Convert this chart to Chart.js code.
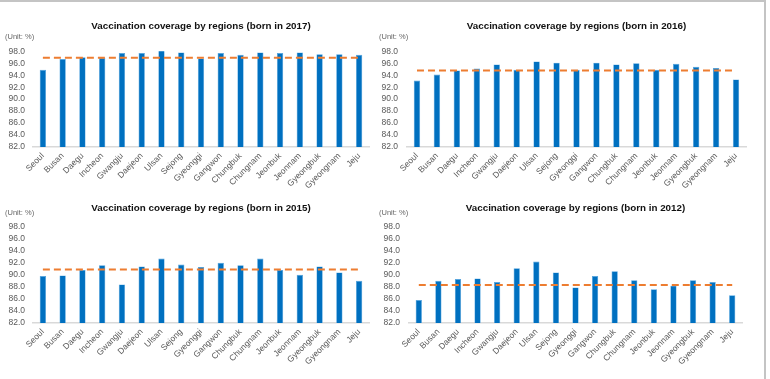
<!DOCTYPE html>
<html>
<head>
<meta charset="utf-8">
<script src="https://cdn.jsdelivr.net/npm/chart.js@4.4.1/dist/chart.umd.min.js"></script>
<style>
  html, body { margin: 0; padding: 0; background: #fff; }
  #wrap { position: relative; width: 770px; height: 379px; overflow: hidden; }
  #wrap canvas { position: absolute; }
  #frame { position: absolute; left: 0; top: 0; width: 766px; height: 379px;
           border-top: 2px solid #c4c4c4; border-right: 2px solid #c4c4c4; box-sizing: border-box; }
</style>
</head>
<body>
<div id="wrap">
  <canvas id="c2017" width="385" height="191" style="left:0;top:0"></canvas>
  <canvas id="c2016" width="395" height="191" style="left:375px;top:0"></canvas>
  <canvas id="c2015" width="385" height="190" style="left:0;top:177px"></canvas>
  <canvas id="c2012" width="395" height="190" style="left:375px;top:177px"></canvas>
  <div id="frame"></div>
</div>
<script>
const regions = ['Seoul', 'Busan', 'Daegu', 'Incheon', 'Gwangju', 'Daejeon', 'Ulsan', 'Sejong', 'Gyeonggi',
  'Gangwon', 'Chungbuk', 'Chungnam', 'Jeonbuk', 'Jeonnam', 'Gyeongbuk', 'Gyeongnam', 'Jeju'];

const cov2017 = [94.9, 96.7, 97.0, 96.9, 97.7, 97.7, 98.3, 97.8, 96.8, 97.7, 97.4, 97.8, 97.7, 97.8, 97.5, 97.5, 97.4];
const cov2016 = [93.1, 94.1, 94.8, 95.1, 95.8, 94.9, 96.3, 96.1, 94.9, 96.1, 95.8, 96.0, 94.9, 95.9, 95.4, 95.2, 93.3];
const cov2015 = [89.8, 89.9, 90.8, 91.6, 88.4, 91.4, 92.7, 91.7, 91.3, 92.0, 91.6, 92.7, 90.8, 90.0, 91.4, 90.4, 89.0];
const cov2012 = [85.8, 89.0, 89.3, 89.4, 88.8, 91.1, 92.2, 90.4, 87.9, 89.8, 90.6, 89.1, 87.6, 88.2, 89.1, 88.8, 86.6];

// national averages (dashed line)
const avg2017 = 96.9;
const avg2016 = 94.8;
const avg2015 = 90.9;
const avg2012 = 88.3;

const yMin = 82, yMax = 98, yStep = 2;

const FONT = '"Liberation Sans", Arial, sans-serif';
const GREY = '#595959';

function makeChart(id, year, values, avg, geo) {
  new Chart(document.getElementById(id), {
    type: 'bar',
    data: {
      labels: regions,
      datasets: [
        {
          type: 'line',
          data: regions.map(() => avg),
          borderColor: '#ED7D31',
          borderWidth: 2,
          borderDash: [7, 4],
          pointRadius: 0,
          fill: false,
          order: 0
        },
        {
          data: values,
          backgroundColor: '#0070C0',
          borderColor: '#4FA3E0',
          borderWidth: { left: 0.6, right: 0.6, top: 0.6, bottom: 0 },
          barPercentage: 0.32,
          categoryPercentage: 1,
          order: 1
        }
      ]
    },
    options: {
      responsive: false,
      animation: false,
      devicePixelRatio: 1,
      layout: { padding: { left: geo.padLeft, right: geo.padRight, top: 0, bottom: 0 } },
      plugins: {
        legend: { display: false },
        tooltip: { enabled: false },
        title: {
          display: true,
          text: 'Vaccination coverage by regions (born in ' + year + ')',
          fullSize: false,
          color: '#111',
          font: { family: FONT, size: 9.8, weight: 'bold' },
          padding: { top: geo.titleTop, bottom: geo.titleBottom }
        },
        subtitle: {
          display: true,
          text: '(Unit: %)',
          align: 'start',
          color: '#666',
          font: { family: FONT, size: 7.5 },
          padding: { top: geo.subTop, bottom: geo.subBottom }
        }
      },
      scales: {
        x: {
          grid: { display: false, drawTicks: false },
          border: { display: true, color: '#D9D9D9', width: 1.5 },
          ticks: {
            color: GREY,
            font: { family: FONT, size: 8.5 },
            minRotation: 45,
            maxRotation: 45,
            padding: 4,
            autoSkip: false
          },
          afterFit: s => { s.height = 44; }
        },
        y: {
          min: yMin,
          max: yMax,
          grid: { display: false, drawTicks: false },
          border: { display: false },
          ticks: {
            stepSize: yStep,
            autoSkip: false,
            color: GREY,
            font: { family: FONT, size: 8.5 },
            padding: geo.tickPad,
            callback: v => v.toFixed(1)
          },
          afterFit: s => { s.width = geo.yWidth; }
        }
      }
    }
  });
}

makeChart('c2017', 2017, cov2017, avg2017,
  { padLeft: 5, padRight: 16, yWidth: 28, tickPad: 8, titleTop: 20.5, titleBottom: 0, subTop: 0, subBottom: 10 });
makeChart('c2016', 2016, cov2016, avg2016,
  { padLeft: 4, padRight: 24, yWidth: 28, tickPad: 9, titleTop: 20.5, titleBottom: 0, subTop: 0, subBottom: 10 });
makeChart('c2015', 2015, cov2015, avg2015,
  { padLeft: 5, padRight: 16, yWidth: 28, tickPad: 8, titleTop: 25.4, titleBottom: -5.5, subTop: 0, subBottom: 9 });
makeChart('c2012', 2012, cov2012, avg2012,
  { padLeft: 4, padRight: 28, yWidth: 30, tickPad: 9, titleTop: 25.4, titleBottom: -5.5, subTop: 0, subBottom: 9 });
</script>
</body>
</html>
